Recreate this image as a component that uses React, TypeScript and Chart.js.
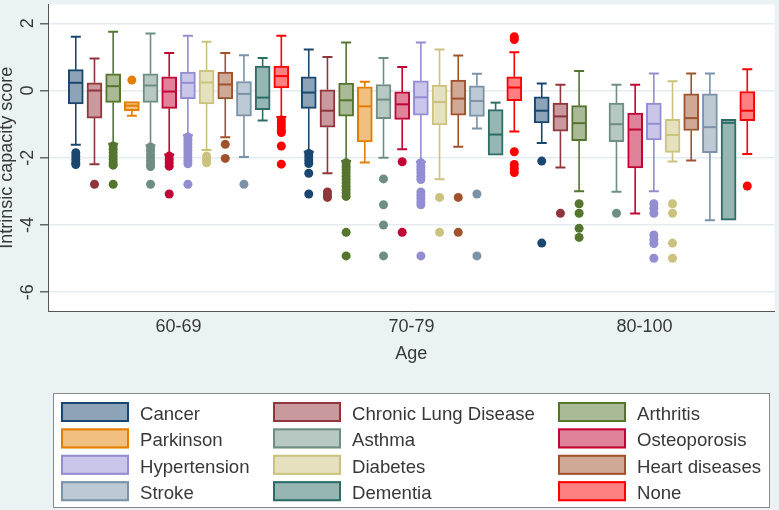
import React, { useEffect, useRef } from 'react';
import { Chart, registerables } from 'chart.js';

Chart.register(...registerables);

const ageGroups = ['60-69', '70-79', '80-100'];
const yTickValues = [-6, -4, -2, 0, 2];
const seriesNames = [
  'Cancer', 'Chronic Lung Disease', 'Arthritis', 'Parkinson', 'Asthma', 'Osteoporosis',
  'Hypertension', 'Diabetes', 'Heart diseases', 'Stroke', 'Dementia', 'None',
];
const seriesColors = [
  '#1a476f', '#90353b', '#55752f', '#e37e00', '#6e8e84', '#c10534',
  '#938dd2', '#cac27e', '#a0522d', '#7b92a8', '#2d6d66', '#ff0000',
];

// [lower whisker, Q1, median, Q3, upper whisker] for each age group
const cancerBox = [[-1.61, -0.40, 0.23, 0.62, 1.60], [-1.82, -0.53, -0.06, 0.41, 1.22], [-1.56, -0.96, -0.60, -0.19, 0.21]];
const chronicBox = [[-2.19, -0.82, 0.0, 0.23, 0.95], [-2.46, -1.09, -0.60, 0.02, 1.00], [-2.29, -1.21, -0.77, -0.37, 0.17]];
const arthritisBox = [[-1.58, -0.35, 0.13, 0.50, 1.75], [-2.10, -0.76, -0.29, 0.22, 1.43], [-3.0, -1.49, -0.97, -0.45, 0.58]];
const parkinsonBox = [[-0.75, -0.60, -0.45, -0.33, -0.33], [-2.14, -1.53, -0.47, 0.11, 0.26], null];
const asthmaBox = [[-1.63, -0.35, 0.15, 0.50, 1.70], [-2.0, -0.84, -0.27, 0.18, 0.97], [-3.01, -1.52, -1.0, -0.37, 0.17]];
const osteoBox = [[-1.90, -0.53, -0.03, 0.41, 1.12], [-1.75, -0.86, -0.41, -0.04, 0.70], [-3.66, -2.30, -1.16, -0.67, 0.17]];
const hyperBox = [[-1.33, -0.24, 0.23, 0.55, 1.63], [-2.12, -0.73, -0.20, 0.29, 1.43], [-3.0, -1.47, -0.99, -0.37, 0.51]];
const diabetesBox = [[-1.77, -0.40, 0.24, 0.60, 1.45], [-2.64, -1.02, -0.34, 0.16, 1.22], [-2.11, -1.84, -1.32, -0.86, 0.28]];
const heartBox = [[-1.39, -0.25, 0.18, 0.55, 1.12], [-1.67, -0.73, -0.24, 0.31, 1.04], [-2.08, -1.19, -0.82, -0.10, 0.51]];
const strokeBox = [[-1.98, -0.76, -0.10, 0.27, 1.05], [-1.13, -0.77, -0.31, 0.14, 0.50], [-3.86, -1.85, -1.09, -0.10, 0.51]];
const dementiaBox = [[-0.89, -0.57, -0.21, 0.73, 0.97], [-1.92, -1.92, -1.31, -0.57, -0.36], [-3.86, -3.86, -0.96, -0.86, -0.86]];
const noneBox = [[-0.79, 0.08, 0.43, 0.73, 1.63], [-1.22, -0.30, 0.09, 0.41, 1.14], [-1.89, -0.90, -0.60, -0.03, 0.63]];

// outside values for each age group
const cancerOut = [[-1.85, -1.95, -2.05, -2.15, -2.2], [-1.87, -1.97, -2.07, -2.17, -2.46, -3.08], [-2.1, -4.54]];
const chronicOut = [[-2.79], [-3.02, -3.1, -3.18], [-3.65]];
const arthritisOut = [[-1.65, -1.75, -1.85, -1.95, -2.05, -2.15, -2.22, -2.79], [-2.15, -2.25, -2.35, -2.45, -2.55, -2.65, -2.75, -2.85, -2.95, -3.05, -3.15, -4.22, -4.92], [-3.37, -3.65, -4.1, -4.37]];
const parkinsonOut = [[0.31], [], []];
const asthmaOut = [[-1.68, -1.78, -1.9, -2.0, -2.1, -2.2, -2.26, -2.79], [-2.63, -3.4, -4.0, -4.92], [-3.65]];
const osteoOut = [[-1.95, -2.05, -2.15, -2.25, -3.08], [-2.12, -4.22], []];
const hyperOut = [[-1.38, -1.48, -1.58, -1.68, -1.78, -1.88, -1.98, -2.08, -2.18, -2.79], [-2.15, -2.25, -2.35, -2.45, -2.55, -2.65, -3.02, -3.12, -3.22, -3.32, -3.4, -4.92], [-3.37, -3.5, -3.65, -4.3, -4.43, -4.55, -4.99]];
const diabetesOut = [[-1.95, -2.05, -2.15], [-3.18, -4.22], [-3.37, -3.65, -4.54, -4.99]];
const heartOut = [[-1.6, -2.02], [-3.18, -4.22], []];
const strokeOut = [[-2.79], [-3.08, -4.92], []];
const dementiaOut = [[], [], []];
const noneOut = [[-0.88, -0.98, -1.08, -1.18, -1.25, -1.65, -2.19], [1.52, 1.6, -1.82, -2.2, -2.32, -2.44], [-2.84]];

const boxSets = [cancerBox, chronicBox, arthritisBox, parkinsonBox, asthmaBox, osteoBox, hyperBox, diabetesBox, heartBox, strokeBox, dementiaBox, noneBox];
const outSets = [cancerOut, chronicOut, arthritisOut, parkinsonOut, asthmaOut, osteoOut, hyperOut, diabetesOut, heartOut, strokeOut, dementiaOut, noneOut];

const FONT = "'Liberation Sans', Arial, Helvetica, sans-serif";
const TEXT = '#383838';
const SLOT = 0.0802;
const slotPos = (g: number, k: number) => g + (k - 5.5) * SLOT;

function tint(hex: string, f = 0.5) {
  const n = parseInt(hex.slice(1), 16);
  const r = (n >> 16) & 255, g = (n >> 8) & 255, b = n & 255;
  const m = (c: number) => Math.round(c + (255 - c) * f);
  return `rgb(${m(r)},${m(g)},${m(b)})`;
}

const boxPlugin = {
  id: 'boxExtras',
  beforeDraw(chart: any) {
    const { ctx, chartArea: ca } = chart;
    ctx.save();
    ctx.fillStyle = '#eaf2f3';
    ctx.fillRect(0, 0, chart.width, chart.height);
    ctx.fillStyle = '#ffffff';
    ctx.fillRect(ca.left, ca.top, ca.right - ca.left, ca.bottom - ca.top);
    ctx.restore();
  },
  afterDatasetsDraw(chart: any) {
    const { ctx } = chart;
    const xs = chart.scales.x, ys = chart.scales.y;
    ctx.save();
    boxSets.forEach((boxes, k) => {
      const col = seriesColors[k];
      boxes.forEach((b, g) => {
        if (!b) return;
        const [lo, q1, med, q3, hi] = b;
        const cx = xs.getPixelForValue(slotPos(g, k));
        const pLo = ys.getPixelForValue(lo), pQ1 = ys.getPixelForValue(q1);
        const pMed = ys.getPixelForValue(med), pQ3 = ys.getPixelForValue(q3);
        const pHi = ys.getPixelForValue(hi);
        ctx.strokeStyle = col;
        ctx.lineWidth = 1.6;
        ctx.beginPath();
        if (pHi < pQ3 - 0.5) { ctx.moveTo(cx, pQ3); ctx.lineTo(cx, pHi); }
        if (pLo > pQ1 + 0.5) { ctx.moveTo(cx, pQ1); ctx.lineTo(cx, pLo); }
        ctx.stroke();
        ctx.lineWidth = 2;
        ctx.beginPath();
        if (pHi < pQ3 - 0.5) { ctx.moveTo(cx - 5, pHi); ctx.lineTo(cx + 5, pHi); }
        if (pLo > pQ1 + 0.5) { ctx.moveTo(cx - 5, pLo); ctx.lineTo(cx + 5, pLo); }
        ctx.stroke();
        ctx.lineWidth = 2;
        ctx.beginPath();
        ctx.moveTo(cx - 7, pMed);
        ctx.lineTo(cx + 7, pMed);
        ctx.stroke();
      });
    });
    ctx.restore();
  },
  afterDraw(chart: any) {
    const { ctx } = chart;
    const ys = chart.scales.y;
    ctx.save();
    // rotated y tick labels
    ctx.fillStyle = TEXT;
    ctx.font = `18px ${FONT}`;
    ctx.textAlign = 'center';
    ctx.textBaseline = 'alphabetic';
    ys.ticks.forEach((t: any) => {
      const py = ys.getPixelForValue(t.value);
      ctx.save();
      ctx.translate(33, py);
      ctx.rotate(-Math.PI / 2);
      ctx.fillText(String(t.value), 0, 0);
      ctx.restore();
    });
    // legend
    ctx.fillStyle = '#ffffff';
    ctx.fillRect(53.5, 393.5, 716, 114);
    ctx.strokeStyle = '#8a8a8a';
    ctx.lineWidth = 1;
    ctx.strokeRect(53.5, 393.5, 716, 114);
    const swX = [61, 273, 558];
    const txX = [140, 352, 637];
    seriesNames.forEach((name, i) => {
      const r = Math.floor(i / 3), c = i % 3;
      const top = 402 + r * 26.4;
      ctx.fillStyle = tint(seriesColors[i]);
      ctx.fillRect(swX[c], top, 68, 20);
      ctx.strokeStyle = seriesColors[i];
      ctx.lineWidth = 2;
      ctx.strokeRect(swX[c] + 1, top + 1, 66, 18);
      ctx.fillStyle = TEXT;
      ctx.font = `18.6px ${FONT}`;
      ctx.textAlign = 'left';
      ctx.textBaseline = 'alphabetic';
      ctx.fillText(name, txX[c], 420 + r * 26.4);
    });
    ctx.restore();
  },
};

export default function App() {
  const ref = useRef<HTMLCanvasElement>(null);
  useEffect(() => {
    document.body.style.margin = '0';
    const barSets = boxSets.map((boxes, k) => ({
      type: 'bar' as const,
      label: seriesNames[k],
      data: boxes
        .map((b, g) => (b ? { x: slotPos(g, k), y: [b[1], b[3]] } : null))
        .filter((d) => d !== null),
      backgroundColor: tint(seriesColors[k]),
      borderColor: seriesColors[k],
      borderWidth: 2,
      borderSkipped: false,
      barThickness: 15,
      maxBarThickness: 15,
      grouped: false,
      order: 2,
    }));
    const outDatasets = outSets.map((groups, k) => ({
      type: 'scatter' as const,
      label: seriesNames[k] + ' outliers',
      data: groups.flatMap((vals, g) => vals.map((v) => ({ x: slotPos(g, k), y: v }))),
      backgroundColor: seriesColors[k],
      borderWidth: 0,
      pointRadius: 4.5,
      order: 1,
    }));
    const chart = new Chart(ref.current as HTMLCanvasElement, {
      type: 'bar',
      data: { datasets: [...barSets, ...outDatasets] as any },
      options: {
        responsive: false,
        devicePixelRatio: 1,
        animation: false,
        events: [],
        layout: { padding: { top: 1, right: 2, left: 0, bottom: 135 } },
        plugins: { legend: { display: false }, tooltip: { enabled: false } },
        scales: {
          x: {
            type: 'linear',
            offset: false,
            min: -0.5604,
            max: 2.558,
            afterBuildTicks: (s: any) => { s.ticks = ageGroups.map((_, i) => ({ value: i })); },
            afterFit: (s: any) => { s.height = 64; },
            grid: { display: false, drawTicks: false },
            border: { display: true, color: '#555555', width: 1 },
            ticks: {
              autoSkip: false,
              maxRotation: 0,
              padding: 5,
              color: TEXT,
              font: { size: 18, family: FONT },
              callback: (v: any) => ageGroups[Math.round(Number(v))] ?? '',
            },
            title: {
              display: true,
              text: 'Age',
              color: TEXT,
              font: { size: 18, family: FONT },
              padding: { top: 0, bottom: 10 },
            },
          },
          y: {
            type: 'linear',
            offset: false,
            min: -6.56,
            max: 2.56,
            afterBuildTicks: (s: any) => { s.ticks = yTickValues.map((v) => ({ value: v })); },
            afterFit: (s: any) => { s.width = 48; },
            grid: { color: '#e4ecef', lineWidth: 1.5, tickColor: '#666666', tickLength: 8, drawTicks: true },
            border: { display: true, color: '#555555', width: 1 },
            ticks: { display: false },
            title: {
              display: true,
              text: 'Intrinsic capacity score',
              color: TEXT,
              font: { size: 18, family: FONT, lineHeight: 0.75 },
              padding: { top: 0, bottom: 0 },
            },
          },
        },
      },
      plugins: [boxPlugin],
    } as any);
    return () => chart.destroy();
  }, []);
  return (
    <div style={{ width: 779, height: 510 }}>
      <canvas ref={ref} width={779} height={510} style={{ display: 'block' }} />
    </div>
  );
}
